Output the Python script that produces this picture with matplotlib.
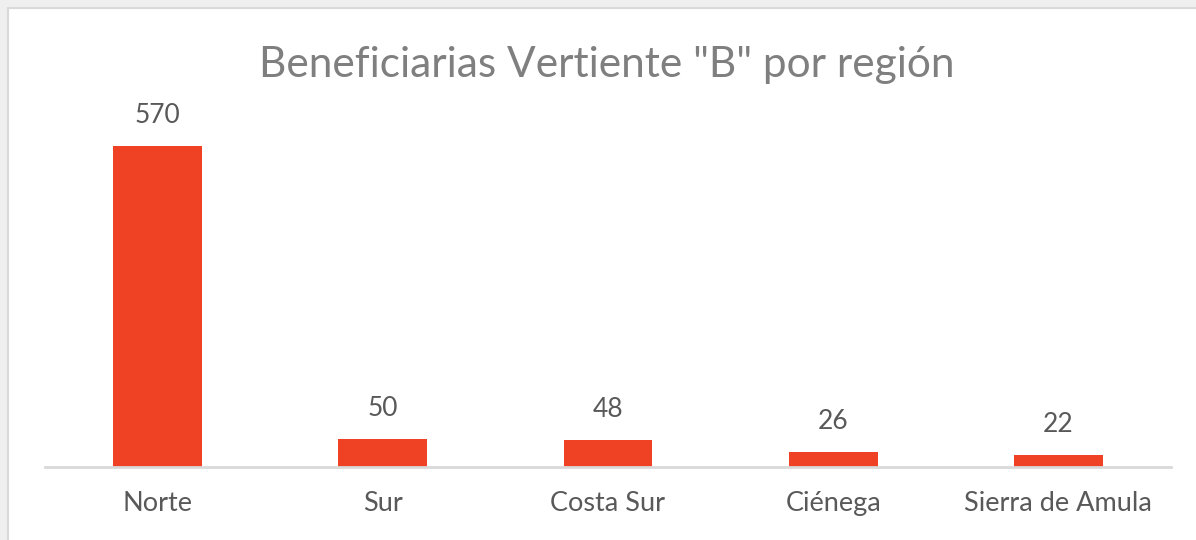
import matplotlib.pyplot as plt
from matplotlib.patches import Rectangle

regiones = ["Norte", "Sur", "Costa Sur", "Ciénega", "Sierra de Amula"]
beneficiarias = [570, 50, 48, 26, 22]
titulo = 'Beneficiarias Vertiente "B" por región'

BAR = "#EF4123"
TXT = "#595959"

plt.rcParams["font.family"] = ["Lato", "DejaVu Sans"]

W, H = 1196, 540
fig = plt.figure(figsize=(W / 100, H / 100), dpi=100, facecolor="#efefef")

# white chart area with light gray frame (like the Excel chart box)
fig.patches.append(Rectangle((8 / W, -0.01), 1.0, (H - 8) / H + 0.01,
                             transform=fig.transFigure, facecolor="white",
                             edgecolor="#d9d9d9", linewidth=1.5, zorder=-10))

ax = fig.add_axes([45 / W, (H - 467) / H, (1171 - 45) / W, (467 - 129) / H])
ax.set_facecolor("none")

x = range(len(regiones))
bars = ax.bar(x, beneficiarias, width=0.395, color=BAR, zorder=2)
ax.set_xlim(-0.5, len(regiones) - 0.5)
ax.set_ylim(0, 600)

for b, v in zip(bars, beneficiarias):
    ax.annotate(f"{v}", (b.get_x() + b.get_width() / 2, v), xytext=(0, 13),
                textcoords="offset points", ha="center", va="bottom",
                fontsize=19, color=TXT)

for s in ["top", "right", "left"]:
    ax.spines[s].set_visible(False)
ax.spines["bottom"].set_color("#d9d9d9")
ax.spines["bottom"].set_linewidth(2)
ax.set_yticks([])
ax.set_xticks(list(x))
ax.set_xticklabels(regiones, fontsize=19.5, color=TXT)
ax.tick_params(axis="x", length=0, pad=17)

fig.text(607 / W, 1 - 65 / H, titulo, ha="center", va="center",
         fontsize=30.5, color="#7f7f7f")

fig.savefig("out.png", dpi=100, facecolor=fig.get_facecolor())
